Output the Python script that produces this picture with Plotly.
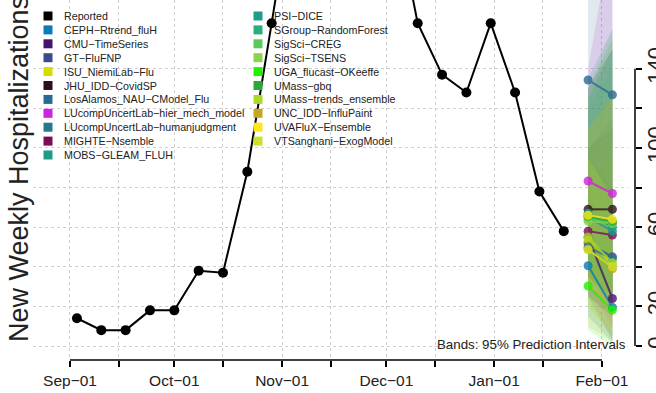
import plotly.graph_objects as go

# ---------------- data ----------------
report_dates = ["2022-09-03", "2022-09-10", "2022-09-17", "2022-09-24", "2022-10-01",
                "2022-10-08", "2022-10-15", "2022-10-22", "2022-10-29", "2022-11-05",
                "2022-11-12", "2022-11-19", "2022-11-26", "2022-12-03", "2022-12-10",
                "2022-12-17", "2022-12-24", "2022-12-31", "2023-01-07", "2023-01-14",
                "2023-01-21"]
report_values = [14, 8, 8, 18, 18, 38, 37, 88, 163, 240, 290, 300, 280, 225, 163,
                 137, 128, 163, 128, 78, 58]

forecast_dates = ["2023-01-28", "2023-02-04"]

model_names = ["CEPH−Rtrend_fluH", "CMU−TimeSeries", "GT−FluFNP", "ISU_NiemiLab−Flu",
               "JHU_IDD−CovidSP", "LosAlamos_NAU−CModel_Flu",
               "LUcompUncertLab−hier_mech_model", "LUcompUncertLab−humanjudgment",
               "MIGHTE−Nsemble", "MOBS−GLEAM_FLUH", "PSI−DICE", "SGroup−RandomForest",
               "SigSci−CREG", "SigSci−TSENS", "UGA_flucast−OKeeffe", "UMass−gbq",
               "UMass−trends_ensemble", "UNC_IDD−InfluPaint", "UVAFluX−Ensemble",
               "VTSanghani−ExogModel"]
model_colors = ["#0A7AB8", "#451470", "#3A4A8C", "#D4DC00", "#2D1020", "#2A6A90",
                "#D020E0", "#24788C", "#7A0C5A", "#1E9A8A", "#1E9E8A", "#28AE7E",
                "#5CC85C", "#88D44A", "#22F000", "#2AA83C", "#ACDA28", "#C4A624",
                "#FFE61A", "#CCE02A"]
point_h1 = [40.5, 55, 52, 53.5, 69, 134.3, 83.3, 50, 58, 65, 67, 66, 64, 63, 30.3, 65.5, 55, 49, 66, 48.5]
point_h2 = [19.5, 24, 45, 41, 69, 126.8, 77, 44, 56, 58, 60, 62, 63, 62, 18.2, 62.8, 42, 39, 64, 40]
lower_h1 = [15, 25, 25, 30, 35, 95, 30, 25, 35, 35, 40, 40, 35, 30, 8, 35, 20, 10, 30, 20]
upper_h1 = [75, 95, 100, 90, 130, 200, 140, 100, 100, 135, 125, 120, 125, 130, 60, 130, 110, 110, 110, 95]
lower_h2 = [2, 3, 15, 12, 25, 75, 10, 15, 25, 18, 22, 28, 22, 18, 0, 22, 5, 2, 18, 5]
upper_h2 = [60, 80, 110, 95, 150, 220, 210, 110, 115, 160, 150, 140, 150, 160, 50, 155, 130, 125, 125, 110]
# drawing order of the translucent bands (bottom -> top)
band_order = [0, 1, 2, 4, 8, 6, 14, 7, 3, 9, 19, 10, 11, 16, 12, 15, 18, 17, 13, 5]

x_tick_dates = ["2022-09-01", "2022-09-15", "2022-10-01", "2022-10-15", "2022-11-01",
                "2022-11-15", "2022-12-01", "2022-12-15", "2023-01-01", "2023-01-15",
                "2023-02-01"]
x_tick_labels = ["Sep−01", "", "Oct−01", "", "Nov−01", "", "Dec−01", "", "Jan−01", "", "Feb−01"]
y_tick_values = [0, 20, 40, 60, 80, 100, 120, 140]
y_tick_labels = ["0", "20", "", "60", "", "100", "", "140"]

# ---------------- geometry helpers ----------------
W, H = 656, 393
L_PX, R_PX, B_PX = 33, 628, 360
def px2x(px):
    return (px - L_PX) / (W - L_PX)
def py2y(py):
    return (B_PX - py) / B_PX

FONT = "Liberation Sans, Arial, Helvetica, sans-serif"
TXT = "#222222"

def rgba(hexc, a):
    h = hexc.lstrip("#")
    return "rgba(%d,%d,%d,%.3f)" % (int(h[0:2], 16), int(h[2:4], 16), int(h[4:6], 16), a)

fig = go.Figure()

# prediction bands
for i in band_order:
    fig.add_trace(go.Scatter(
        x=[forecast_dates[0], forecast_dates[1], forecast_dates[1], forecast_dates[0], forecast_dates[0]],
        y=[lower_h1[i], lower_h2[i], upper_h2[i], upper_h1[i], lower_h1[i]],
        fill="toself", fillcolor=rgba(model_colors[i], 0.15),
        line=dict(width=0), mode="lines", hoverinfo="skip", showlegend=False))

# reported (on the overlaying right axis so that axis is drawn)
fig.add_trace(go.Scatter(x=report_dates, y=report_values, mode="lines+markers",
                         yaxis="y2",
                         line=dict(color="black", width=2),
                         marker=dict(color="black", size=10), showlegend=False))

# forecast points
for i, name in enumerate(model_names):
    fig.add_trace(go.Scatter(x=forecast_dates, y=[point_h1[i], point_h2[i]],
                             mode="lines+markers", opacity=0.8,
                             line=dict(color=model_colors[i], width=2),
                             marker=dict(color=model_colors[i], size=9),
                             name=name, showlegend=False))

shapes = []
annotations = []

# axis lines (R style: from first to last tick)
shapes.append(dict(type="line", xref="x", yref="paper", x0=x_tick_dates[0], x1=x_tick_dates[-1],
                   y0=0, y1=0, line=dict(color="black", width=1.5)))
shapes.append(dict(type="line", xref="paper", yref="y", x0=px2x(635), x1=px2x(635),
                   y0=y_tick_values[0], y1=y_tick_values[-1], line=dict(color="black", width=1.5)))

# manual legend
legend_names = ["Reported"] + model_names
legend_colors = ["#000000"] + model_colors
n_col1 = 11
for k, (nm, col) in enumerate(zip(legend_names, legend_colors)):
    if k < n_col1:
        sx, row = 48, k
    else:
        sx, row = 258, k - n_col1
    cy = 16 + 13.9 * row
    shapes.append(dict(type="rect", xref="paper", yref="paper",
                       x0=px2x(sx - 4.5), x1=px2x(sx + 4.5),
                       y0=py2y(cy + 4.5), y1=py2y(cy - 4.5),
                       fillcolor=col, line=dict(width=0)))
    annotations.append(dict(xref="paper", yref="paper", x=px2x(sx + 14), y=py2y(cy),
                            xanchor="left", yanchor="middle", showarrow=False, text=nm,
                            font=dict(family=FONT, size=10.7, color=TXT)))

# y title
annotations.append(dict(xref="paper", yref="paper", x=px2x(19), y=py2y(169),
                        xanchor="center", yanchor="middle", showarrow=False,
                        text="New Weekly Hospitalizations", textangle=-90,
                        font=dict(family=FONT, size=27, color=TXT)))
# bands note
annotations.append(dict(xref="paper", yref="paper", x=px2x(628), y=py2y(344),
                        xanchor="right", yanchor="middle", showarrow=False,
                        text="Bands: 95% Prediction Intervals",
                        font=dict(family=FONT, size=13.3, color=TXT)))

y_range = [-7.07, 174.7]
fig.update_layout(
    template="none",
    width=W, height=H,
    margin=dict(l=L_PX, r=0, t=0, b=H - B_PX, pad=0),
    paper_bgcolor="white", plot_bgcolor="white",
    showlegend=False,
    font=dict(family=FONT, color=TXT),
    xaxis=dict(type="date", domain=[0, px2x(R_PX)], automargin=False,
               range=["2022-08-21 08:40", "2023-02-08 11:30"],
               tickmode="array", tickvals=x_tick_dates, ticktext=x_tick_labels,
               ticks="outside", ticklen=6, tickwidth=1.5, tickcolor="black",
               tickfont=dict(size=15.5, color=TXT, family=FONT),
               showgrid=True, gridcolor="#cfcfcf", griddash="dot", gridwidth=1,
               showline=False, zeroline=False),
    yaxis=dict(range=y_range, tickmode="array", tickvals=y_tick_values, automargin=False,
               showticklabels=False, ticks="",
               showgrid=True, gridcolor="#cfcfcf", griddash="dot", gridwidth=1,
               showline=False, zeroline=False),
    yaxis2=dict(range=y_range, overlaying="y", anchor="free", position=px2x(635), side="right",
                automargin=False,
                tickmode="array", tickvals=y_tick_values, ticktext=y_tick_labels,
                ticks="outside", ticklen=6, tickwidth=1.5, tickcolor="black",
                tickangle=-90, ticklabelstandoff=-5,
                tickfont=dict(size=22, color=TXT, family=FONT),
                showgrid=False, showline=False, zeroline=False),
    shapes=shapes, annotations=annotations,
)

fig.write_html("out.html", config={"displayModeBar": False},
               post_script="document.body.style.margin='0px';")
